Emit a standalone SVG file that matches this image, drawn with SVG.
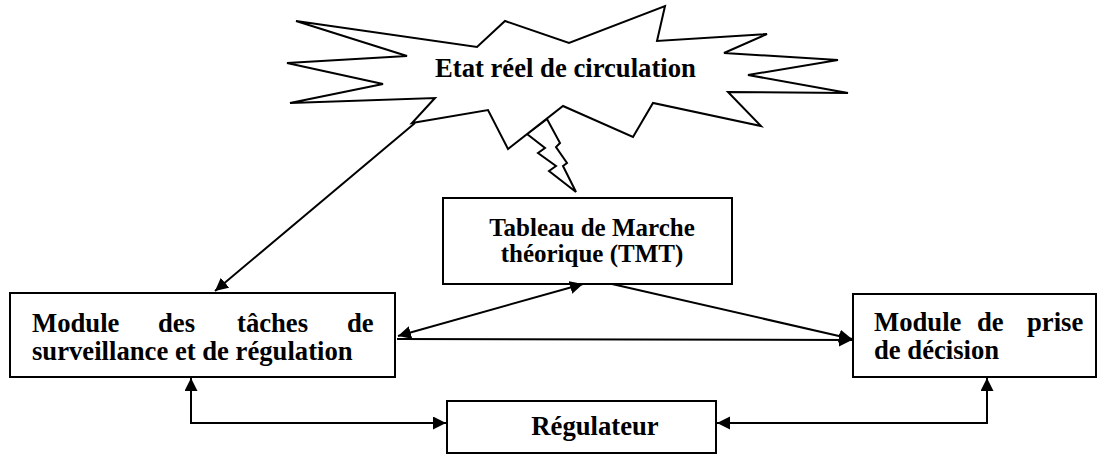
<svg xmlns="http://www.w3.org/2000/svg" width="1097" height="454" viewBox="0 0 1097 454">
  <style>
    .box { fill: #fff; stroke: #000; stroke-width: 2; }
    .shape { fill: #fff; stroke: #000; stroke-width: 2; stroke-linejoin: miter; }
    .lbl { font-family: "Liberation Serif", "Times New Roman", "DejaVu Serif", serif; font-weight: 700; font-size: 26.67px; fill: #000; }
    .small { font-size: 25px; }
    .mid { text-anchor: middle; }
    .link { fill: none; stroke: #000; stroke-width: 2; }
  </style>
  <defs>
    <marker id="arrow" markerUnits="userSpaceOnUse" markerWidth="14" markerHeight="14" refX="13" refY="6.5" orient="auto-start-reverse">
      <path d="M0,0 L13,6.5 L0,13 Z" fill="#000"/>
    </marker>
  </defs>

  <rect width="1097" height="454" fill="#fff"/>

  <!-- Traffic state: explosion shape with lightning bolt toward the timetable -->
  <g id="etat-reel">
    <polygon class="shape" points="527,134 545,148 538,153 556,166 549,171 576,192 563,166 567,163 556,147 560,143 547,119"/>
    <polygon class="shape" points="296,21 477,47 505,21 569,43 665,6 657,41 767,34 724,53 838,60 748,75 848,93 728,92 761,126 653,103 633,137 563,106 508,149 488,110 412,123 435,98 290,103 383,84 287,63 407,56"/>
    <text class="lbl" x="435" y="77" font-family="Liberation Serif, serif">Etat réel de circulation</text>
  </g>

  <g id="tmt">
    <rect class="box" x="443" y="198" width="289" height="86"/>
    <text class="lbl small mid" x="592" y="236" font-family="Liberation Serif, serif">Tableau de Marche</text>
    <text class="lbl small mid" x="592" y="262" font-family="Liberation Serif, serif">théorique (TMT)</text>
  </g>

  <g id="module-surveillance">
    <rect class="box" x="10" y="293" width="385" height="84"/>
    <text class="lbl" y="332" font-family="Liberation Serif, serif"><tspan x="32">Module</tspan><tspan x="158">des</tspan><tspan x="237">tâches</tspan><tspan x="347">de</tspan></text>
    <text class="lbl" x="32" y="360" font-family="Liberation Serif, serif">surveillance et de régulation</text>
  </g>

  <g id="module-decision">
    <rect class="box" x="853" y="294" width="243" height="83"/>
    <text class="lbl" y="331" font-family="Liberation Serif, serif"><tspan x="874">Module</tspan><tspan x="977">de</tspan><tspan x="1027">prise</tspan></text>
    <text class="lbl" x="874" y="359" font-family="Liberation Serif, serif">de décision</text>
  </g>

  <g id="regulateur">
    <rect class="box" x="447" y="401" width="269" height="52"/>
    <text class="lbl mid" x="595" y="435" font-family="Liberation Serif, serif">Régulateur</text>
  </g>

  <g id="connectors">
    <line class="link" x1="415" y1="123" x2="215" y2="291" marker-end="url(#arrow)"/>
    <line class="link" x1="398" y1="336" x2="583" y2="284" marker-start="url(#arrow)" marker-end="url(#arrow)"/>
    <line class="link" x1="612" y1="284" x2="852" y2="339" marker-end="url(#arrow)"/>
    <line class="link" x1="397" y1="339" x2="852" y2="340" marker-end="url(#arrow)"/>
    <path class="link" d="M191,378 V423 H446" marker-start="url(#arrow)" marker-end="url(#arrow)"/>
    <path class="link" d="M717,423 H987 V378" marker-start="url(#arrow)" marker-end="url(#arrow)"/>
  </g>
</svg>
